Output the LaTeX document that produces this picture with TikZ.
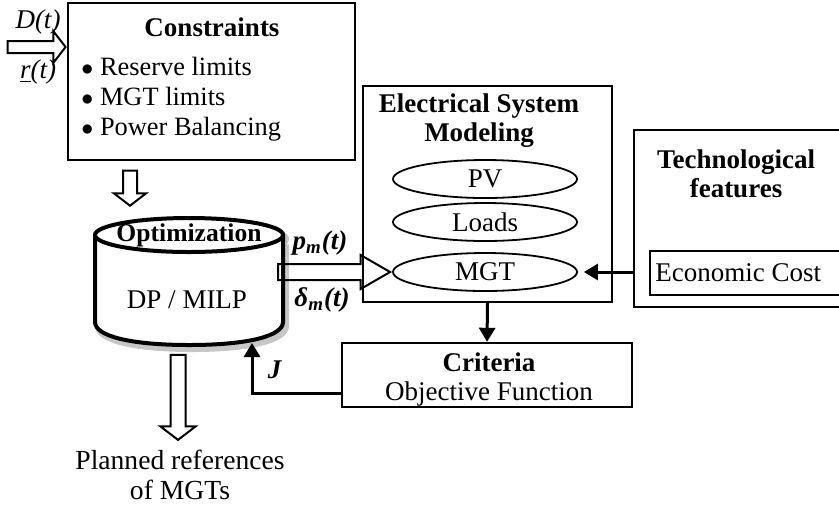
\documentclass[tikz,border=0pt]{standalone}
\usepackage{fontspec}
\setmainfont{Liberation Serif}
\usetikzlibrary{arrows.meta,shapes.geometric,shapes.arrows}

\begin{document}
\begin{tikzpicture}[x=0.5pt,y=-0.5pt,
		every node/.style={font=\fontsize{13.5}{14.5}\selectfont,inner sep=1pt},
		box/.style={draw,line width=1.2pt,inner sep=0},
		ell/.style={ellipse,draw,line width=0.9pt,minimum width=92pt,minimum height=19pt,inner sep=0},
		hollow/.style={single arrow,draw,line width=1pt,fill=white,minimum width=0pt,single arrow tip angle=105},
		arr/.style={-{Triangle[length=7pt,width=8pt]},line width=1.5pt}]
		\useasboundingbox (0,0) rectangle (839,505);
		% constraints block and its inputs
		\node[box,minimum width=143.5pt,minimum height=78.5pt] (cons) at (211.5,81.5) {};
		\node (constitle) at (212,27) {\textbf{Constraints}};
		\node[align=left,anchor=west,font=\fontsize{13.2}{15}\selectfont] (conslist) at (79,99) {$\bullet$ Reserve limits\\$\bullet$ MGT limits\\$\bullet$ Power Balancing};
		\coordinate (inlvl) at (0,47);
		\node[hollow,anchor=tip,minimum height=29pt,inner sep=2.5pt,single arrow head extend=5pt] (inarr) at (cons.west |- inlvl) {};
		\node (dlab) at (38,22) {\textit{D(t)}};
		\node (rlab) at (38,72) {\textit{\underline{r}(t)}};
		\node[hollow,shape border rotate=270,minimum height=17.5pt,inner sep=3pt,single arrow head extend=4.5pt] (downarr) at (130,185.5) {};
		% optimization cylinder
		\coordinate (cyltop) at (189,235);
		\coordinate (cylbot) at (252,343);
		\draw[gray!45,line width=3pt,shift={(3,4)}] (95,240) -- (95,322) .. controls (95,336) and (130,345) .. (189,345) .. controls (248,345) and (283,336) .. (283,322) -- (283,240);
		\draw[gray!45,line width=3pt] (192,239) ellipse[x radius=94,y radius=17];
		\fill[white] (95,235) -- (95,322) .. controls (95,336) and (130,345) .. (189,345) .. controls (248,345) and (283,336) .. (283,322) -- (283,235) -- cycle;
		\fill[white] (cyltop) ellipse[x radius=94,y radius=17];
		\draw[line width=2pt] (95,235) -- (95,322) .. controls (95,336) and (130,345) .. (189,345) .. controls (248,345) and (283,336) .. (283,322) -- (283,235);
		\draw[line width=2pt] (cyltop) ellipse[x radius=94,y radius=17];
		\node[font=\fontsize{12.8}{14}\selectfont] (opt) at (cyltop) {\textbf{Optimization}};
		\node (dp) at (187,300) {DP / MILP};
		% electrical system
		\node[box,minimum width=124.5pt,minimum height=108pt] (elec) at (487.5,194) {};
		\node[align=center] (electitle) at (479,121) {\textbf{Electrical System}\\\textbf{Modeling}};
		\node[ell] (pv) at (485,179) {PV};
		\node[ell] (loads) at (485,222) {Loads};
		\node[ell] (mgt) at (485,272) {MGT};
		\node[hollow,fill=none,anchor=tip,single arrow tip angle=60,minimum height=56pt,inner sep=3.5pt,single arrow head extend=4.5pt] (pmarr) at (mgt.west) {};
		\node (pmlab) at (320,243) {\textbf{\textit{p\textsubscript{m}(t)}}};
		\node (dmlab) at (322,300) {\textbf{\textit{δ\textsubscript{m}(t)}}};
		% technological features
		\node[box,minimum width=105.5pt,minimum height=88.5pt] (tech) at (739.5,218.5) {};
		\node[align=center] (techtitle) at (736,174) {\textbf{Technological}\\\textbf{features}};
		\node[box,line width=0.9pt,minimum width=97.5pt,minimum height=22pt] (econ) at (747.5,273) {};
		\node[anchor=west] (econlab) at (653,273) {Economic Cost};
		\draw[arr] (tech.west |- mgt) -- ([xshift=3pt]mgt.east);
		% criteria
		\node[box,minimum width=145pt,minimum height=32pt] (crit) at (487,375) {};
		\node[align=center] (critlab) at (489,379) {\textbf{Criteria}\\Objective Function};
		\draw[arr] (elec.south) -- (crit.north);
		\draw[arr] ([yshift=-9pt]crit.west) -| (cylbot);
		\node (jlab) at (275,370) {\textbf{\textit{J}}};
		% output
		\node[hollow,shape border rotate=270,minimum height=42.5pt,inner sep=3.25pt,single arrow head extend=5pt] (outarr) at (178,394.5) {};
		\node[align=center,font=\fontsize{13.8}{15}\selectfont] (outlab) at (180,475) {Planned references\\of MGTs};
	\end{tikzpicture}
\end{document}
